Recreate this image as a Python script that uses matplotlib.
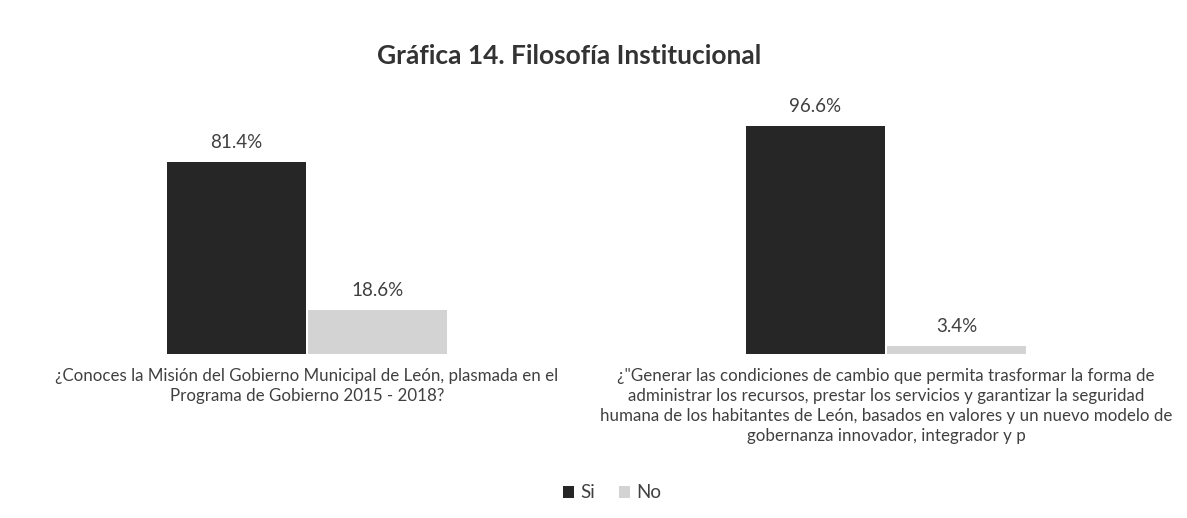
import matplotlib
matplotlib.use("Agg")
import matplotlib.pyplot as plt
import numpy as np

categories = [
    "¿Conoces la Misión del Gobierno Municipal de León, plasmada en el\nPrograma de Gobierno 2015 - 2018?",
    "¿\"Generar las condiciones de cambio que permita trasformar la forma de\nadministrar los recursos, prestar los servicios y garantizar la seguridad\nhumana de los habitantes de León, basados en valores y un nuevo modelo de\ngobernanza innovador, integrador y p",
]
series_names = ["Si", "No"]
si_values = [81.4, 96.6]
no_values = [18.6, 3.4]
title = "Gráfica 14. Filosofía Institucional"

plt.rcParams['font.family'] = ['Lato', 'DejaVu Sans']

W, H = 1187, 518
fig = plt.figure(figsize=(W / 100, H / 100), dpi=100)
ax = fig.add_axes([17.5 / W, (H - 354) / H, (1175.5 - 17.5) / W, 236 / H])

x = np.arange(len(categories))
bw = 0.24
colors = ["#262626", "#d3d3d3"]
text_color = "#404040"
b1 = ax.bar(x - bw / 2 - 0.002, si_values, bw, color=colors[0], label=series_names[0])
b2 = ax.bar(x + bw / 2 + 0.002, no_values, bw, color=colors[1], label=series_names[1])

for bars, vals in ((b1, si_values), (b2, no_values)):
    for rect, v in zip(bars, vals):
        ax.annotate(f"{v:.1f}%", (rect.get_x() + rect.get_width() / 2, v),
                    xytext=(0, 8), textcoords="offset points",
                    ha="center", va="bottom", fontsize=13.5, color=text_color)

ax.set_xlim(-0.5, 1.5)
ax.set_ylim(0, 100)
ax.set_yticks([])
ax.set_xticks(x)
ax.set_xticklabels(categories, fontsize=12.2, color=text_color, linespacing=1.3, va="top")
ax.tick_params(axis="x", length=0, pad=10)
for s in ax.spines.values():
    s.set_visible(False)

fig.text(569 / W, 1 - 56 / H, title, ha="center", va="center", fontsize=19,
         fontweight="bold", color="#333333")

leg = fig.legend(handles=[b1, b2], labels=series_names, loc="center",
                 bbox_to_anchor=(612 / W, 1 - 493 / H), ncol=2, frameon=False,
                 fontsize=13.5, handlelength=0.6, handleheight=0.6, handletextpad=0.3,
                 columnspacing=1.3, labelcolor=text_color)

fig.savefig("out.png", dpi=100, facecolor="white")
